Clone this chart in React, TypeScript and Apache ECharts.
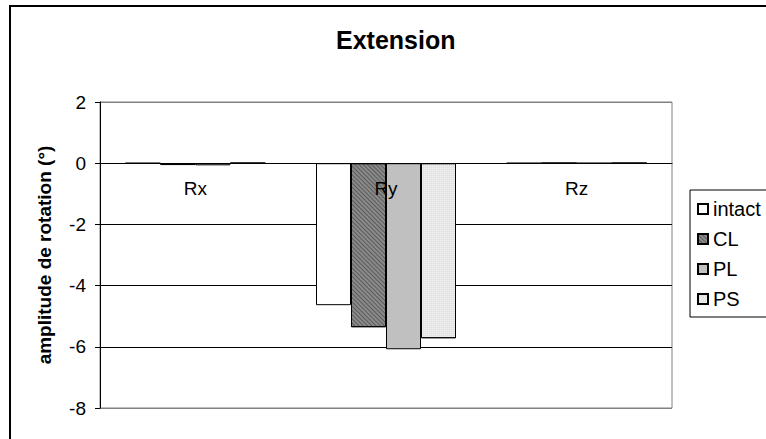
import React, { useEffect, useRef } from "react";
import * as echarts from "echarts";

const categories = ["Rx", "Ry", "Rz"];
const seriesNames = ["intact", "CL", "PL", "PS"];
const intactValues = [0, -4.64, 0];
const clValues = [-0.06, -5.36, 0];
const plValues = [-0.07, -6.08, 0];
const psValues = [0, -5.72, 0];
const yTicks = [-8, -6, -4, -2, 0, 2];

const FONT = "'Liberation Sans', Arial, sans-serif";

export default function App() {
  const ref = useRef<HTMLDivElement>(null);
  useEffect(() => {
    if (!ref.current) return;
    const chart = echarts.init(ref.current, undefined, { renderer: "svg" });
    const values = [intactValues, clValues, plValues, psValues];
    const fills = ["#ffffff", "#8a8a8a", "#c0c0c0", "#e4e4e4"];
    const decals: any[] = [
      null,
      {
        symbol: "rect",
        symbolSize: 1,
        dashArrayX: [1, 0],
        dashArrayY: [1, 2],
        rotation: Math.PI / 4,
        color: "rgba(60,60,60,0.6)",
      },
      null,
      {
        symbol: "rect",
        symbolSize: 1,
        dashArrayX: [1, 1],
        dashArrayY: [1, 1],
        color: "rgba(255,255,255,0.5)",
      },
    ];
    const gridTop = 102;
    const gridBottom = 31;
    const plotH = 439 - gridTop - gridBottom;
    const yMin = yTicks[0];
    const yMax = yTicks[yTicks.length - 1];
    const zeroFromBottom = (plotH * (0 - yMin)) / (yMax - yMin);
    chart.setOption({
      animation: false,
      backgroundColor: "#ffffff",
      textStyle: { fontFamily: FONT },
      title: {
        text: "Extension",
        left: 331,
        top: 22,
        textStyle: { fontFamily: FONT, fontSize: 25, fontWeight: "bold", color: "#000" },
      },
      legend: {
        orient: "vertical",
        left: 690,
        top: 190,
        padding: [9, 24, 8, 7],
        itemGap: 10,
        itemWidth: 10,
        itemHeight: 10,
        borderColor: "#000",
        borderWidth: 1,
        icon: "rect",
        data: seriesNames,
        textStyle: { fontFamily: FONT, fontSize: 20, color: "#000" },
      },
      grid: {
        left: 100,
        right: 94,
        top: gridTop,
        bottom: gridBottom,
        show: true,
        borderColor: "#808080",
        borderWidth: 1,
        containLabel: false,
      },
      xAxis: {
        type: "category",
        data: categories,
        offset: -zeroFromBottom,
        z: 10,
        axisLine: { onZero: false, lineStyle: { color: "#000", width: 1 } },
        axisTick: { show: false },
        axisLabel: { margin: 16, fontFamily: FONT, fontSize: 19, color: "#000" },
      },
      yAxis: {
        type: "value",
        min: yMin,
        max: yMax,
        interval: 2,
        name: "amplitude de rotation (°)",
        nameLocation: "middle",
        nameGap: 46,
        nameTextStyle: { fontFamily: FONT, fontSize: 19, fontWeight: "bold", color: "#000" },
        axisLine: { show: true, lineStyle: { color: "#000", width: 1 } },
        axisTick: { show: true, length: 5, lineStyle: { color: "#000" } },
        axisLabel: {
          margin: 14,
          fontFamily: FONT,
          fontSize: 19,
          color: "#000",
          formatter: (v: number) => (yTicks.includes(v) ? String(v) : ""),
        },
        splitLine: {
          show: true,
          lineStyle: {
            color: ["#808080", "#000", "#000", "#000", "#000", "#808080"],
            width: 1,
          },
        },
      },
      series: seriesNames.map((name, i) => ({
        name,
        type: "bar",
        data: values[i],
        barWidth: 35,
        barGap: "0%",
        itemStyle: {
          color: fills[i],
          borderColor: "#000",
          borderWidth: 1,
          ...(decals[i] ? { decal: decals[i] } : {}),
        },
      })),
      graphic: [
        {
          type: "rect",
          shape: { x: 10, y: 6, width: 900, height: 600 },
          style: { fill: "none", stroke: "#000", lineWidth: 2 },
          silent: true,
          z: 100,
        },
      ],
    });
    return () => chart.dispose();
  }, []);
  return (
    <div
      ref={ref}
      style={{ position: "fixed", left: 0, top: 0, width: 766, height: 439 }}
    />
  );
}
